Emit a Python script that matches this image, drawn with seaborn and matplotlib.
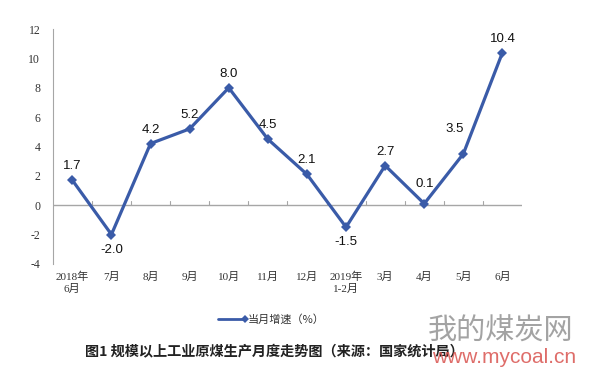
import numpy as np
import pandas as pd
import matplotlib
matplotlib.use('Agg')
import matplotlib.pyplot as plt
import seaborn as sns

# Data ------------------------------------------------------------------------

months = ['2018年\n6月', '7月', '8月', '9月', '10月', '11月', '12月',
          '2019年\n1-2月', '3月', '4月', '5月', '6月']
growth = [1.7, -2.0, 4.2, 5.2, 8.0, 4.5, 2.1, -1.5, 2.7, 0.1, 3.5, 10.4]
y_ticks = [-4, -2, 0, 2, 4, 6, 8, 10, 12]

df = pd.DataFrame({'pos': np.arange(len(months)), 'growth': growth})

# Plot ------------------------------------------------------------------------

sns.set_style('white')
plt.rcParams['font.family'] = ['Liberation Serif', 'Noto Sans CJK SC']

line_color = '#3A5BA8'
grey = '#A6A6A6'

fig = plt.figure(figsize=(6, 3.78), dpi=100)
ax = fig.add_axes([0.088, 0.302, 0.782, 0.621])

sns.lineplot(data=df, x='pos', y='growth', ax=ax, color=line_color,
             linewidth=2.3, marker='D', markersize=5.5, markeredgewidth=0)

ax.set_xlim(-0.5, len(months) - 0.5)
ax.set_ylim(-4, 12)
ax.set_yticks(y_ticks)
ax.set_yticklabels([str(t) for t in y_ticks], fontsize=8.5,
                   family=['Liberation Serif'], color='#333333')
ax.set_xticks([])
ax.set_xlabel('')
ax.set_ylabel('')

for s in ['top', 'right', 'bottom']:
    ax.spines[s].set_visible(False)
ax.spines['left'].set_color(grey)
ax.tick_params(axis='y', length=3, color=grey, direction='out', pad=6)

# zero line with boundary ticks
ax.axhline(0, color=grey, linewidth=1, zorder=0)
for b in np.arange(0.5, len(months) - 0.5, 1):
    ax.plot([b, b], [0, 0.25], color=grey, linewidth=0.8, zorder=0)

# category labels under the plot
for i, lab in enumerate(months):
    ax.text(i, -4.55, lab, ha='center', va='top', fontsize=8,
            color='#333333', linespacing=1.2,
            family=['Liberation Serif', 'Noto Sans CJK SC'])

# value labels
offsets = {1: (0, -11), 7: (0, -11), 9: (0, 14), 10: (-6, 18)}
for i, v in enumerate(growth):
    dx, dy = offsets.get(i, (0, 10))
    ax.annotate(f'{v:.1f}', (i, v), xytext=(dx, dy), textcoords='offset points',
                ha='center', va='center', fontsize=9.5, color='#111111',
                family=['Liberation Sans'])

# legend
fig.lines.append(plt.Line2D([0.363, 0.408], [0.155, 0.155],
                            transform=fig.transFigure, color=line_color,
                            linewidth=2, marker='D', markersize=4,
                            markevery=[1], markeredgewidth=0))
fig.text(0.413, 0.155, '当月增速（%）', ha='left', va='center', fontsize=8,
         color='#333333', family=['Noto Sans CJK SC'])

# title
fig.text(0.457, 0.068, '图1 规模以上工业原煤生产月度走势图（来源：国家统计局）',
         ha='center', va='center', fontsize=10.2, fontweight='bold',
         color='#222222', family=['Noto Sans CJK SC'])

# watermark
fig.text(0.835, 0.122, '我的煤炭网', ha='center', va='center', fontsize=21,
         color='#8C8C8C', alpha=0.8, family=['Noto Sans CJK SC'])
fig.text(0.84, 0.055, 'www.mycoal.cn', ha='center', va='center', fontsize=15,
         color='#D9534F', alpha=0.85, family=['Liberation Sans'])

fig.savefig('out.png', dpi=100)
